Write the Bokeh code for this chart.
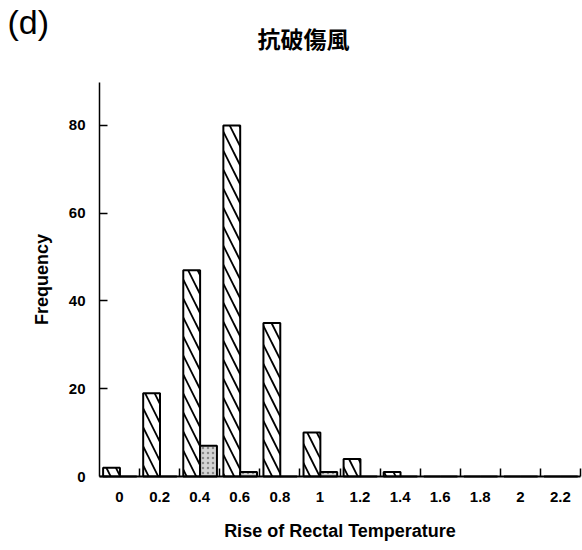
from bokeh.plotting import figure
from bokeh.models import Range1d, FixedTicker, ColumnDataSource, LinearAxis, Label
from bokeh.embed import file_html
from bokeh.resources import INLINE

categories = ["0", "0.2", "0.4", "0.6", "0.8", "1", "1.2", "1.4", "1.6", "1.8", "2", "2.2"]
hatched_vals = [2, 19, 47, 80, 35, 10, 4, 1, 0, 0, 0, 0]
grey_vals = [0, 0, 7, 1, 0, 1, 0, 0, 0, 0, 0, 0]
y_ticks = [0, 20, 40, 60, 80]
panel_tag = "(d)"
title_text = "抗破傷風"
x_label = "Rise of Rectal Temperature"
y_label = "Frequency"

n = len(categories)
idx = list(range(n))
Y_MAX = 89.8

# canvas geometry (pixels): plotting area box
W, H = 582, 550
AX_LEFT, AX_RIGHT, AX_TOP, AX_BOTTOM = 99, 580, 82, 476
ppx = (AX_RIGHT - AX_LEFT) / n          # pixels per category
ppy = (AX_BOTTOM - AX_TOP) / Y_MAX      # pixels per count

x0 = -0.5 - AX_LEFT / ppx
x1 = -0.5 + (W - AX_LEFT) / ppx
y0 = -(H - AX_BOTTOM) / ppy
y1 = AX_BOTTOM / ppy

p = figure(width=W, height=H, output_backend="svg", toolbar_location=None,
           x_range=Range1d(x0, x1), y_range=Range1d(y0, y1),
           x_axis_type=None, y_axis_type=None,
           min_border_left=0, min_border_right=0, min_border_top=0, min_border_bottom=0)
p.outline_line_color = None
p.background_fill_color = "white"

src_h = ColumnDataSource(dict(x=[i - 0.2 for i in idx], top=hatched_vals))
src_g = ColumnDataSource(dict(x=[i + 0.22 for i in idx], top=grey_vals))

p.vbar(x="x", top="top", bottom=0, width=0.42, source=src_h,
       fill_color="white", line_color="black", line_width=2,
       hatch_pattern="\\", hatch_color="black", hatch_weight=1.8, hatch_scale=19)
p.vbar(x="x", top="top", bottom=0, width=0.42, source=src_g,
       fill_color="#d4d4d4", line_color="black", line_width=2,
       hatch_pattern=".", hatch_color="#888888", hatch_scale=5, hatch_weight=1)

# X axis at y = 0
xaxis = LinearAxis(fixed_location=0, bounds=(-0.5, n - 0.5),
                   ticker=FixedTicker(ticks=idx, minor_ticks=[i + 0.5 for i in idx]))
xaxis.major_label_overrides = {i: c for i, c in enumerate(categories)}
xaxis.major_tick_line_color = None
xaxis.minor_tick_in = 8
xaxis.minor_tick_out = 0
xaxis.minor_tick_line_width = 1.5
xaxis.axis_line_width = 2
xaxis.major_label_standoff = 9
xaxis.major_label_text_font = "Liberation Sans"
xaxis.major_label_text_font_style = "bold"
xaxis.major_label_text_font_size = "15px"
xaxis.major_label_text_color = "black"
xaxis.axis_label = x_label
xaxis.axis_label_text_font = "Liberation Sans"
xaxis.axis_label_text_font_size = "18px"
xaxis.axis_label_text_font_style = "bold"
xaxis.axis_label_text_color = "black"
xaxis.axis_label_standoff = 16
p.add_layout(xaxis, "below")

# Y axis at the left edge of the first category
yaxis = LinearAxis(fixed_location=-0.5, bounds=(0, Y_MAX), ticker=FixedTicker(ticks=y_ticks))
yaxis.minor_tick_line_color = None
yaxis.major_tick_in = 8
yaxis.major_tick_out = 0
yaxis.major_tick_line_width = 1.5
yaxis.axis_line_width = 1.5
yaxis.major_label_standoff = 14
yaxis.major_label_text_font = "Liberation Sans"
yaxis.major_label_text_font_style = "bold"
yaxis.major_label_text_font_size = "15px"
yaxis.major_label_text_color = "black"
yaxis.axis_label = y_label
yaxis.axis_label_text_font = "Liberation Sans"
yaxis.axis_label_text_font_size = "18px"
yaxis.axis_label_text_font_style = "bold"
yaxis.axis_label_text_color = "black"
yaxis.axis_label_standoff = 14
p.add_layout(yaxis, "left")

# Panel tag and title (screen units measured from the bottom-left corner)
p.add_layout(Label(x=7, y=H - 21, x_units="screen", y_units="screen", text=panel_tag,
                   text_font="Liberation Sans", text_font_size="34px",
                   text_baseline="middle", text_align="left", text_color="black"))
p.add_layout(Label(x=303, y=H - 37, x_units="screen", y_units="screen", text=title_text,
                   text_font="Noto Sans CJK JP", text_font_size="23px", text_font_style="bold",
                   text_baseline="middle", text_align="center", text_color="black"))

open("out.html", "w").write(file_html(p, INLINE))
